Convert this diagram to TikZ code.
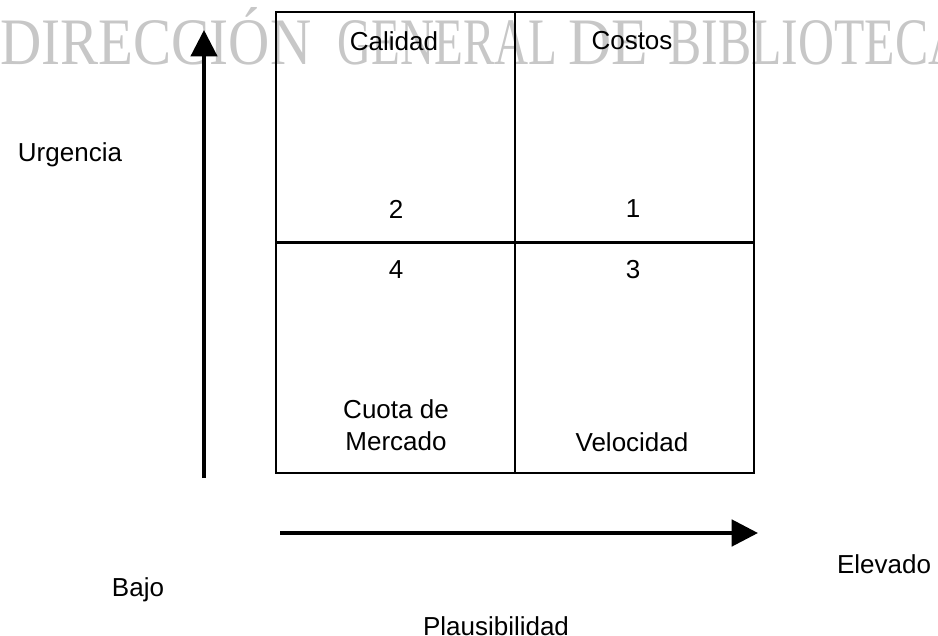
\documentclass[tikz,border=0pt]{standalone}
\usepackage{fontspec}
\setmainfont{Liberation Sans}
\newfontfamily\marcafont{Liberation Serif}
\usetikzlibrary{arrows.meta}

\tikzset{
	cuadro/.style={draw, line width=1.1pt, minimum height=4.6cm, inner sep=0pt},
	marca/.style={anchor=base west, inner sep=0pt, text=black!22},
	flecha/.style={line width=1.8pt, -{Triangle[length=15pt, width=15pt]}},
}

\newcommand{\palabra}[2]{\scalebox{#1}[1]{\fontsize{37.8}{40}\marcafont #2}}

\begin{document}
\begin{tikzpicture}[x=0.02cm, y=-0.02cm, font=\fontsize{14.8}{18}\selectfont]
\useasboundingbox (0,0) rectangle (938,636);

% Marca de agua
\begin{scope}
	\clip (0,0) rectangle (938,636);
	\node[marca] (m1) at (0,64) {\palabra{0.86}{DIRECCIÓN}};
	\node[marca] (m2) at (337,64) {\palabra{0.71}{GENERAL}};
	\node[marca] (m3) at (568,64) {\palabra{0.9}{DE}};
	\node[marca] (m4) at (668,64) {\palabra{0.75}{BIBLIOTECAS}};
\end{scope}

% Cuadrantes
\node[cuadro, minimum width=4.78cm] (q2) at (395.5,127) {};
\node[cuadro, minimum width=4.78cm] (q1) at (634.5,127) {};
\node[cuadro, minimum width=4.78cm] (q4) at (395.5,358) {};
\node[cuadro, minimum width=4.78cm] (q3) at (634.5,358) {};

\node (cal) at (394,41) {Calidad};
\node (cos) at (632,41) {Costos};
\node (n2) at (396,209) {2};
\node (n1) at (633,209) {1};
\node (n4) at (396,270) {4};
\node (n3) at (633,270) {3};
\node[align=center] (cuo) at (396,425) {Cuota de\\Mercado};
\node (vel) at (632,442) {Velocidad};

% Ejes
\coordinate (u0) at (204,478);
\coordinate (u1) at (204,30);
\draw[flecha] (u0) -- (u1);

\coordinate (p0) at (280,533);
\coordinate (p1) at (758,533);
\draw[flecha, line width=2.2pt] (p0) -- (p1);

\node (urg) at (70,155) {Urgencia};
\node (baj) at (138,590) {Bajo};
\node (ele) at (884,564) {Elevado};
\node (pla) at (496,626) {Plausibilidad};
\end{tikzpicture}
\end{document}
